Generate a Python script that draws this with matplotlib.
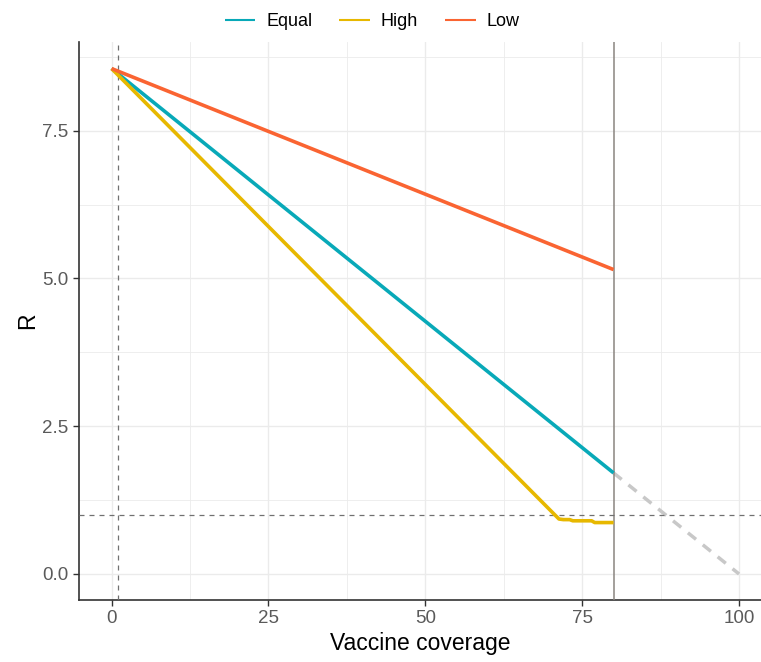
import matplotlib.pyplot as plt
import numpy as np

plt.rcParams['font.family'] = ['Liberation Sans', 'DejaVu Sans']

# vaccine coverage (%) and R for each allocation strategy
equal_x = [0, 80]
equal_r = [8.55, 1.71]
high_x = [0, 71.3, 72.0, 73.0, 73.5, 76.5, 77.0, 80]
high_r = [8.55, 0.93, 0.92, 0.92, 0.90, 0.90, 0.87, 0.87]
low_x = [0, 80]
low_r = [8.55, 5.15]
extrap_x = [80, 100]
extrap_r = [1.71, 0.0]

series = ["Equal", "High", "Low"]
colors = ["#08A9B8", "#E7B800", "#FA6432"]

x_ticks = [0, 25, 50, 75, 100]
y_ticks = [0.0, 2.5, 5.0, 7.5]

fig = plt.figure(figsize=(7.61, 6.62), dpi=100)
ax = fig.add_axes([79 / 761, 1 - 600 / 662, 682 / 761, 558 / 662])

# grid
for v in np.arange(-12.5, 112.5, 12.5):
    ax.axvline(v, color="#ebebeb", lw=1.0 if v % 25 == 0 else 0.6, zorder=0)
for v in np.arange(0, 10, 1.25):
    ax.axhline(v, color="#ebebeb", lw=1.0 if v % 2.5 == 0 else 0.6, zorder=0)

ax.plot(extrap_x, extrap_r, color="#c8c8c8", lw=2.5, ls=(0, (3, 2.5)), zorder=2)
ax.axvline(80, color="#8a8580", lw=1.1, zorder=3)
ax.axvline(1, color="#707070", lw=0.9, ls=(0, (4, 4)), zorder=3)
ax.axhline(1, color="#707070", lw=0.9, ls=(0, (4, 4)), zorder=3)

for name, xs, ys, c in zip(series, [equal_x, high_x, low_x],
                           [equal_r, high_r, low_r], colors):
    ax.plot(xs, ys, color=c, lw=2.6, label=name, zorder=4,
            solid_capstyle="butt")

ax.set_xlim(-5.2, 103.5)
ax.set_ylim(-0.44, 9.0)
ax.set_xticks(x_ticks)
ax.set_xticklabels([str(t) for t in x_ticks])
ax.set_yticks(y_ticks)
ax.set_yticklabels([f"{t:.1f}" for t in y_ticks])
ax.tick_params(labelsize=13.5, labelcolor="#5a5a5a", length=4, width=1,
               color="#333333")
for s in ["top", "right"]:
    ax.spines[s].set_visible(False)
for s in ["left", "bottom"]:
    ax.spines[s].set_linewidth(1.2)
    ax.spines[s].set_color("#333333")

ax.set_xlabel("Vaccine coverage", fontsize=16.5, labelpad=3)
ax.set_ylabel("R", fontsize=16.5, labelpad=2)

leg = ax.legend(loc="lower center", bbox_to_anchor=(0.43, 1.0), ncol=3,
                frameon=False, fontsize=13, handlelength=1.7,
                columnspacing=1.5, handletextpad=0.6, borderaxespad=0.25)
for h in leg.get_lines():
    h.set_linewidth(1.5)

fig.savefig("out.png", dpi=100)
